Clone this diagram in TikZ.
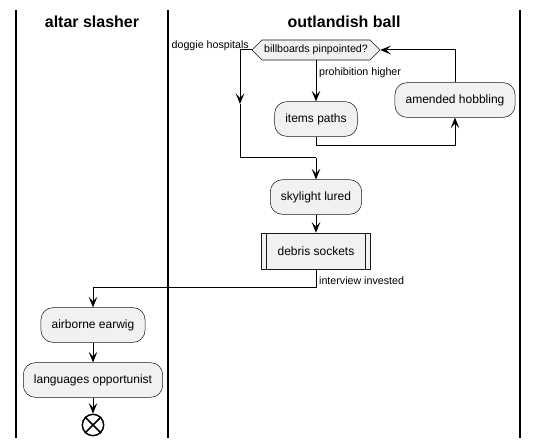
\documentclass[tikz,border=0pt]{standalone}
\usepackage{fontspec}
\setmainfont{Liberation Sans}
\usetikzlibrary{shapes.symbols,arrows.meta}
\definecolor{fond}{HTML}{F1F1F1}
\definecolor{bord}{HTML}{181818}

\begin{document}
\begin{tikzpicture}[x=0.75pt,y=-0.75pt]
  \tikzstyle{activite}=[draw=bord, fill=fond, rounded corners=9pt, line width=0.4pt,
  minimum height=26pt, inner xsep=8pt, font=\fontsize{9}{11}\selectfont]
  \tikzstyle{sousproc}=[draw=bord, fill=fond, line width=0.4pt, minimum height=27pt,
  inner xsep=12pt, font=\fontsize{9}{11}\selectfont,
  path picture={\draw[bord] ([xshift=3.75pt]path picture bounding box.north west) -- ([xshift=3.75pt]path picture bounding box.south west);
    \draw[bord] ([xshift=-3.75pt]path picture bounding box.north east) -- ([xshift=-3.75pt]path picture bounding box.south east);}]
  \tikzstyle{test}=[signal, signal to=west and east, draw=bord, fill=fond, line width=0.4pt,
  minimum height=15pt, inner xsep=1.5pt, font=\fontsize{8}{10}\selectfont]
  \tikzstyle{fin}=[circle, draw=black, line width=1.1pt, minimum size=16pt, inner sep=0pt]
  \tikzstyle{titre}=[font=\bfseries\fontsize{12}{14}\selectfont]
  \tikzstyle{etiquette}=[font=\fontsize{8}{10}\selectfont, inner sep=2pt]
  \tikzstyle{fleche}=[-{Stealth[length=8pt,width=6.5pt,inset=3.5pt]}, line width=0.75pt]
  \useasboundingbox (0,0) rectangle (538,448);
  % couloirs
  \foreach \x in {16,168,520} {
    \draw[line width=1.1pt] (\x,10) -- (\x,438);
  }
  \node[titre] (t1) at (92,22) {altar slasher};
  \node[titre] (t2) at (344,22) {outlandish ball};
  % noeuds
  \node[test] (choix) at (316,50) {billboards pinpointed?};
  \foreach \n/\x/\y/\t in {items/316/119/items paths,amende/455/100/amended hobbling,
    ciel/316/197/skylight lured,earwig/93/325/airborne earwig,langues/93/380/languages opportunist} {
    \node[activite] (\n) at (\x,\y) {\t};
  }
  \node[sousproc] (debris) at (316,251) {debris sockets};
  \node[fin] (fin) at (93,425) {};
  \draw[line width=1.1pt] (fin.north west) -- (fin.south east) (fin.north east) -- (fin.south west);
  % fleches
  \coordinate (gmilieu) at (240,104);
  \coordinate (gauche) at (240,158);
  \coordinate (jonction) at (316,158);
  \coordinate (sousamende) at (455,146);
  \coordinate (coude) at (93,288);
  \node[etiquette, anchor=east, yshift=3pt] (l1) at (choix.west) {doggie hospitals};
  \draw[fleche] (choix.south) -- node[etiquette, anchor=west, pos=0.3] (l2) {prohibition higher} (items.north);
  \draw[fleche] (choix.west) -| (gmilieu);
  \draw[line width=0.75pt] (gmilieu) -- (gauche) -- (jonction);
  \draw[fleche] (jonction) -- (ciel.north);
  \draw[fleche] (items.south) |- (sousamende) -- (amende.south);
  \draw[fleche] (amende.north) |- (choix.east);
  \draw[fleche] (ciel) -- (debris);
  \draw[fleche] (debris.south) |- node[etiquette, anchor=west, pos=0.3] (l3) {interview invested} (coude) -- (earwig.north);
  \draw[fleche] (earwig) -- (langues);
  \draw[fleche] (langues) -- (fin);
\end{tikzpicture}
\end{document}
